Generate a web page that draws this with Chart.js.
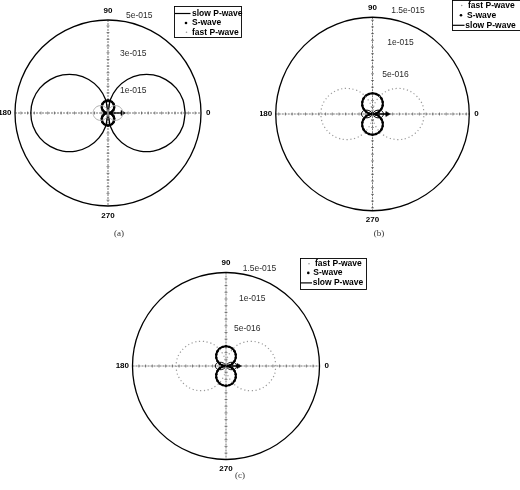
<!DOCTYPE html>
<html>
<head>
<meta charset="utf-8">
<script src="https://cdn.jsdelivr.net/npm/chart.js@4.4.0/dist/chart.umd.min.js"></script>
<style>
html,body{margin:0;padding:0;background:#fff;width:520px;height:490px;overflow:hidden;}
canvas{position:absolute;}
</style>
</head>
<body>
<canvas id="chartA" width="260" height="245" style="left:0px;top:0px;width:260px;height:245px;"></canvas>
<canvas id="chartB" width="260" height="245" style="left:260px;top:0px;width:260px;height:245px;"></canvas>
<canvas id="chartC" width="300" height="245" style="left:100px;top:245px;width:300px;height:245px;"></canvas>
<script>
// ---------- DATA (radius in units of 1e-15, sampled every 10 degrees) ----------
const angles = [0,10,20,30,40,50,60,70,80,90,100,110,120,130,140,150,160,170,180,190,200,210,220,230,240,250,260,270,280,290,300,310,320,330,340,350,360];

const seriesNames = ['slow P-wave', 'S-wave', 'fast P-wave'];

// (a)
const aSlowP = [4.15,4.09,3.90,3.59,3.18,2.67,2.08,1.42,0.72,0,0.72,1.42,2.08,2.67,3.18,3.59,3.90,4.09,4.15,4.09,3.90,3.59,3.18,2.67,2.08,1.42,0.72,0,0.72,1.42,2.08,2.67,3.18,3.59,3.90,4.09,4.15];
const aSWave = [0,0.12,0.23,0.34,0.43,0.51,0.58,0.63,0.66,0.67,0.66,0.63,0.58,0.51,0.43,0.34,0.23,0.12,0,0.12,0.23,0.34,0.43,0.51,0.58,0.63,0.66,0.67,0.66,0.63,0.58,0.51,0.43,0.34,0.23,0.12,0];
const aFastP = [0.80,0.79,0.75,0.69,0.61,0.51,0.40,0.27,0.14,0,0.14,0.27,0.40,0.51,0.61,0.69,0.75,0.79,0.80,0.79,0.75,0.69,0.61,0.51,0.40,0.27,0.14,0,0.14,0.27,0.40,0.51,0.61,0.69,0.75,0.79,0.80];

// (b)
const bFastP = [0.80,0.79,0.75,0.69,0.61,0.51,0.40,0.27,0.14,0,0.14,0.27,0.40,0.51,0.61,0.69,0.75,0.79,0.80,0.79,0.75,0.69,0.61,0.51,0.40,0.27,0.14,0,0.14,0.27,0.40,0.51,0.61,0.69,0.75,0.79,0.80];
const bSWave = [0,0.056,0.109,0.16,0.206,0.245,0.277,0.301,0.315,0.32,0.315,0.301,0.277,0.245,0.206,0.16,0.109,0.056,0,0.056,0.109,0.16,0.206,0.245,0.277,0.301,0.315,0.32,0.315,0.301,0.277,0.245,0.206,0.16,0.109,0.056,0];
const bSlowP = [0.17,0.165,0.15,0.12,0.09,0.06,0.035,0.015,0.004,0,0.004,0.015,0.035,0.06,0.09,0.12,0.15,0.165,0.17,0.165,0.15,0.12,0.09,0.06,0.035,0.015,0.004,0,0.004,0.015,0.035,0.06,0.09,0.12,0.15,0.165,0.17];

// (c)
const cFastP = [0.80,0.79,0.75,0.69,0.61,0.51,0.40,0.27,0.14,0,0.14,0.27,0.40,0.51,0.61,0.69,0.75,0.79,0.80,0.79,0.75,0.69,0.61,0.51,0.40,0.27,0.14,0,0.14,0.27,0.40,0.51,0.61,0.69,0.75,0.79,0.80];
const cSWave = [0,0.055,0.108,0.158,0.203,0.242,0.274,0.297,0.311,0.316,0.311,0.297,0.274,0.242,0.203,0.158,0.108,0.055,0,0.055,0.108,0.158,0.203,0.242,0.274,0.297,0.311,0.316,0.311,0.297,0.274,0.242,0.203,0.158,0.108,0.055,0];
const cSlowP = [0.17,0.165,0.15,0.12,0.09,0.06,0.035,0.015,0.004,0,0.004,0.015,0.035,0.06,0.09,0.12,0.15,0.165,0.17,0.165,0.15,0.12,0.09,0.06,0.035,0.015,0.004,0,0.004,0.015,0.035,0.06,0.09,0.12,0.15,0.165,0.17];

// arrow (polarisation direction) length, units of 1e-15
const arrowLen = [0.78, 0.23, 0.20];

// outer radius of each polar axis and the radial tick labels
const rMax = [5, 1.5, 1.5];
const ringValsA = [1, 3, 5];
const ringLabelsA = ['1e-015', '3e-015', '5e-015'];
const ringValsB = [0.5, 1, 1.5];
const ringLabelsB = ['5e-016', '1e-015', '1.5e-015'];
const ringValsC = [0.5, 1, 1.5];
const ringLabelsC = ['5e-016', '1e-015', '1.5e-015'];
const angleTickVals = [0, 90, 180, 270];
const angleTickLabels = ['0', '90', '180', '270'];
const captions = ['(a)', '(b)', '(c)'];

// ---------- helpers ----------
function toXY(r) {
  return angles.map((a, i) => ({
    x: r[i] * Math.cos(a * Math.PI / 180),
    y: r[i] * Math.sin(a * Math.PI / 180)
  }));
}

const SANS = '"Liberation Sans", Arial, Helvetica, sans-serif';
const SERIF = '"Liberation Serif", "DejaVu Serif", serif';

const polarFrame = {
  id: 'polarFrame',
  beforeDatasetsDraw(chart, args, o) {
    const ctx = chart.ctx, xs = chart.scales.x, ys = chart.scales.y;
    const cx = xs.getPixelForValue(0), cy = ys.getPixelForValue(0);
    const R = xs.getPixelForValue(o.rmax) - cx;
    ctx.save();
    // cross-hair axes
    ctx.strokeStyle = '#3a3a3a';
    ctx.lineWidth = 0.7;
    ctx.setLineDash([2, 1]);
    ctx.beginPath();
    ctx.moveTo(cx - R, cy); ctx.lineTo(cx + R, cy);
    ctx.moveTo(cx, cy - R); ctx.lineTo(cx, cy + R);
    ctx.stroke();
    ctx.setLineDash([]);
    ctx.lineWidth = 0.6;
    ctx.beginPath();
    for (let d = o.tickStep; d < R - 2; d += o.tickStep) {
      for (const s of [-1, 1]) {
        ctx.moveTo(cx + s * d, cy - 1.5); ctx.lineTo(cx + s * d, cy + 1.5);
        ctx.moveTo(cx - 1.5, cy + s * d); ctx.lineTo(cx + 1.5, cy + s * d);
      }
    }
    ctx.stroke();
    // outer circle
    ctx.strokeStyle = '#000';
    ctx.lineWidth = 1.3;
    ctx.beginPath();
    ctx.arc(cx, cy, R, 0, Math.PI * 2);
    ctx.stroke();
    ctx.restore();
  },
  afterDatasetsDraw(chart, args, o) {
    const ctx = chart.ctx, xs = chart.scales.x, ys = chart.scales.y;
    const cx = xs.getPixelForValue(0), cy = ys.getPixelForValue(0);
    const R = xs.getPixelForValue(o.rmax) - cx;
    ctx.save();
    // angle labels
    ctx.fillStyle = '#000';
    ctx.font = 'bold 8px ' + SANS;
    ctx.textBaseline = 'middle';
    angleTickVals.forEach((a, i) => {
      const t = angleTickLabels[i];
      if (a === 0) { ctx.textAlign = 'left'; ctx.fillText(t, cx + R + 5, cy); }
      else if (a === 90) { ctx.textAlign = 'center'; ctx.fillText(t, cx, cy - R - 9.5); }
      else if (a === 180) { ctx.textAlign = 'right'; ctx.fillText(t, cx - R - 3.5, cy); }
      else { ctx.textAlign = 'center'; ctx.fillText(t, cx, cy + R + 9.5); }
    });
    // radial labels
    ctx.font = '8.5px ' + SANS;
    ctx.fillStyle = '#2a2a2a';
    ctx.textAlign = 'left';
    o.ringVals.forEach((v, i) => {
      const py = ys.getPixelForValue(v) - o.ringDy[i];
      ctx.fillText(o.ringLabels[i], cx + o.ringDx[i], py);
    });
    // caption
    ctx.translate(-o.origin[0], -o.origin[1]);
    ctx.font = '9px ' + SERIF;
    ctx.fillStyle = '#333';
    ctx.textAlign = 'center';
    ctx.fillText(o.caption, o.capPos[0], o.capPos[1]);
    // legend
    const L = o.legend;
    ctx.fillStyle = '#fff';
    ctx.fillRect(L.box[0], L.box[1], L.box[2], L.box[3]);
    ctx.strokeStyle = '#000';
    ctx.lineWidth = 0.9;
    ctx.strokeRect(L.box[0], L.box[1], L.box[2], L.box[3]);
    ctx.font = 'bold 8.5px ' + SANS;
    ctx.textAlign = 'left';
    ctx.textBaseline = 'middle';
    L.rows.forEach(row => {
      const name = seriesNames[row.series];
      if (row.series === 0) {
        ctx.strokeStyle = '#000'; ctx.lineWidth = 1.2;
        ctx.beginPath(); ctx.moveTo(L.lineX[0], row.y); ctx.lineTo(L.lineX[1], row.y); ctx.stroke();
      } else if (row.series === 1) {
        ctx.fillStyle = '#000';
        ctx.beginPath(); ctx.arc(row.mx, row.y, 1.3, 0, Math.PI * 2); ctx.fill();
      } else {
        ctx.fillStyle = '#9a9a9a';
        ctx.beginPath(); ctx.arc(row.mx, row.y, 0.8, 0, Math.PI * 2); ctx.fill();
      }
      ctx.fillStyle = '#000';
      ctx.fillText(name, row.tx, row.y);
    });
    ctx.restore();
  }
};

function makeChart(id, rmax, slow, swave, fast, arrow, st, pad, frame) {
  const datasets = [
    {
      label: seriesNames[2], data: toXY(fast), showLine: true, tension: 0.3,
      borderColor: st.fastColor, borderWidth: st.fastWidth, borderDash: st.fastDash,
      pointRadius: 0
    },
    {
      label: seriesNames[0], data: toXY(slow), showLine: true, tension: 0.3,
      borderColor: '#000', borderWidth: st.slowWidth, pointRadius: 0
    },
    {
      label: seriesNames[1], data: toXY(swave), showLine: true, tension: 0.3,
      borderColor: '#000', borderWidth: st.sWidth,
      pointRadius: st.sPoint, pointBackgroundColor: '#000', pointBorderWidth: 0
    },
    {
      label: 'arrow', data: [{x: 0, y: 0}, {x: arrow, y: 0}], showLine: true,
      borderColor: '#000', borderWidth: 1.3,
      pointRadius: [0, 3], pointStyle: 'triangle', pointRotation: 90,
      pointBackgroundColor: '#000', pointBorderColor: '#000', pointBorderWidth: 0.5
    }
  ];
  return new Chart(document.getElementById(id), {
    type: 'scatter',
    data: {datasets},
    options: {
      responsive: false,
      animation: false,
      layout: {padding: pad},
      scales: {
        x: {type: 'linear', min: -rmax, max: rmax, display: false},
        y: {type: 'linear', min: -rmax, max: rmax, display: false}
      },
      plugins: {
        legend: {display: false},
        tooltip: {enabled: false},
        polarFrame: Object.assign({rmax}, frame)
      }
    },
    plugins: [polarFrame]
  });
}

// (a)
makeChart('chartA', rMax[0], aSlowP, aSWave, aFastP, arrowLen[0],
  {fastColor: '#b0b0b0', fastWidth: 1, fastDash: [], slowWidth: 1.3, sWidth: 2.2, sPoint: 1.2},
  {left: 15, top: 20, right: 59, bottom: 39},
  {
    origin: [0, 0], tickStep: 6.7,
    ringVals: ringValsA, ringLabels: ringLabelsA, ringDx: [12, 12, 18], ringDy: [4, 4, 4],
    caption: captions[0], capPos: [119, 234],
    legend: {
      box: [174.5, 6.5, 67, 31], lineX: [175, 190.5],
      rows: [
        {series: 0, y: 13.5, tx: 192, mx: 186},
        {series: 1, y: 23, tx: 192, mx: 186},
        {series: 2, y: 32.3, tx: 192, mx: 186.5}
      ]
    }
  });

// (b)
makeChart('chartB', rMax[1], bSlowP, bSWave, bFastP, arrowLen[1],
  {fastColor: '#9a9a9a', fastWidth: 1.2, fastDash: [1.2, 2.6], slowWidth: 1, sWidth: 2, sPoint: 1.2},
  {left: 15.75, top: 17.25, right: 50.75, bottom: 34.25},
  {
    origin: [260, 0], tickStep: 6.7,
    ringVals: ringValsB, ringLabels: ringLabelsB, ringDx: [9.7, 14.7, 18.7], ringDy: [6.7, 6.7, 6.7],
    caption: captions[1], capPos: [379, 234],
    legend: {
      box: [452.5, 0.5, 70, 30], lineX: [452.5, 464.5],
      rows: [
        {series: 2, y: 5.5, tx: 468, mx: 461.7},
        {series: 1, y: 15.3, tx: 467, mx: 461},
        {series: 0, y: 25.3, tx: 465.3, mx: 460}
      ]
    }
  });

// (c)
makeChart('chartC', rMax[2], cSlowP, cSWave, cFastP, arrowLen[2],
  {fastColor: '#9a9a9a', fastWidth: 1.2, fastDash: [1.2, 2.6], slowWidth: 1, sWidth: 2, sPoint: 1.2},
  {left: 32.5, top: 27.5, right: 80.5, bottom: 30.5},
  {
    origin: [100, 245], tickStep: 6.7,
    ringVals: ringValsC, ringLabels: ringLabelsC, ringDx: [8, 13, 16.7], ringDy: [6.5, 5.4, 4.2],
    caption: captions[2], capPos: [240, 476],
    legend: {
      box: [300.5, 258.5, 66, 31], lineX: [300.5, 312],
      rows: [
        {series: 2, y: 263.7, tx: 315, mx: 309},
        {series: 1, y: 272.9, tx: 313.3, mx: 308.3},
        {series: 0, y: 282.9, tx: 312.7, mx: 307}
      ]
    }
  });
</script>
</body>
</html>
